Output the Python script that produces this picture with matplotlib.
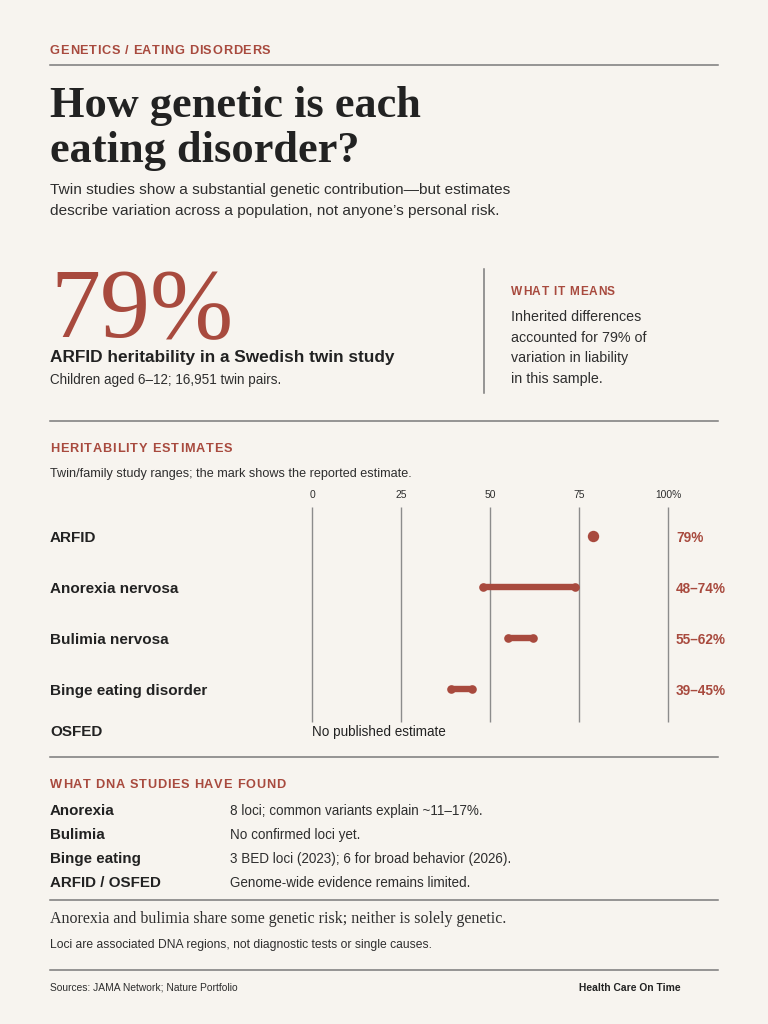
import matplotlib
matplotlib.use("Agg")
import matplotlib.pyplot as plt
import matplotlib.transforms as mtransforms
from matplotlib.font_manager import FontProperties, findfont
from matplotlib.ft2font import FT2Font
import numpy as np

# ---------------- data ----------------
disorders = ["ARFID", "Anorexia nervosa", "Bulimia nervosa", "Binge eating disorder", "OSFED"]
low_est = [79, 48, 55, 39, None]
high_est = [79, 74, 62, 45, None]
tick_vals = [0, 25, 50, 75, 100]
tick_labels = ["0", "25", "50", "75", "100%"]
no_estimate_text = "No published estimate"

dna_groups = ["Anorexia", "Bulimia", "Binge eating", "ARFID / OSFED"]
dna_findings = [
    "8 loci; common variants explain ~11\u201317%.",
    "No confirmed loci yet.",
    "3 BED loci (2023); 6 for broad behavior (2026).",
    "Genome-wide evidence remains limited.",
]

headline_value = "79%"
means_lines = ["Inherited differences", "accounted for 79% of", "variation in liability", "in this sample."]

# ---------------- style ----------------
BG = "#f7f4ef"
RED = "#a84a3e"
DARK = "#222222"
TXT = "#2e2e2e"
RULE = "#7a7a7a"
GRID = "#8c8c8c"
SANS = "Liberation Sans"
SERIF = "Liberation Serif"

W, H = 768, 1024
fig = plt.figure(figsize=(W / 100, H / 100), dpi=100)
fig.patch.set_facecolor(BG)
renderer = fig.canvas.get_renderer()
REF = 80.0


def text_w(s, size, **kw):
    t = fig.text(0, 0, s, fontsize=size, **kw)
    w = t.get_window_extent(renderer).width
    t.remove()
    return w


def fit(s, target, **kw):
    return REF * target / text_w(s, REF, **kw)


def put(x, y, s, size, **kw):
    kw.setdefault("va", "baseline")
    return fig.text(x / W, 1 - y / H, s, fontsize=size, **kw)


def advances(s, size, family, weight):
    font = FT2Font(findfont(FontProperties(family=family, weight=weight)))
    font.set_size(size, 100)
    out = []
    for c in s:
        g = font.load_char(ord(c))
        out.append(g.linearHoriAdvance / 65536.0)
    return out


def spaced(x, y, s, size, target, family=SANS, weight="bold", **kw):
    adv = advances(s, size, family, weight)
    track = (target - sum(adv)) / max(len(s) - 1, 1)
    cx = x
    for c, a in zip(s, adv):
        if c != " ":
            put(cx, y, c, size, family=family, weight=weight, **kw)
        cx += a + track


def hrule(y, x0=50, x1=718, lw=1.1, color=RULE):
    fig.add_artist(plt.Line2D([x0 / W, x1 / W], [1 - y / H, 1 - y / H],
                              transform=fig.transFigure, color=color, lw=lw))


# ---------------- header ----------------
spaced(50, 54, "GENETICS / EATING DISORDERS", 9.2, 220, color=RED)
hrule(65)

ts = fit("How genetic is each", 371, family=SERIF, weight="bold")
put(50, 117, "How genetic is each", ts, family=SERIF, weight="bold", color=DARK)
put(50, 162, "eating disorder?", ts, family=SERIF, weight="bold", color=DARK)

sub1 = "Twin studies show a substantial genetic contribution\u2014but estimates"
sub2 = "describe variation across a population, not anyone\u2019s personal risk."
ss = fit(sub1, 459, family=SANS)
put(50, 194, sub1, ss, family=SANS, color=TXT)
put(50, 215, sub2, ss, family=SANS, color=TXT)

# ---------------- big number block ----------------
bs = fit(headline_value, 183, family=SERIF)
put(50, 337, headline_value, bs, family=SERIF, color=RED)
s1 = "ARFID heritability in a Swedish twin study"
put(50, 362, s1, fit(s1, 343, family=SANS, weight="bold"), family=SANS, weight="bold", color=DARK)
s2 = "Children aged 6\u201312; 16,951 twin pairs."
put(50, 384, s2, fit(s2, 232, family=SANS), family=SANS, color=TXT)

fig.add_artist(plt.Line2D([484 / W, 484 / W], [1 - 269 / H, 1 - 393 / H],
                          transform=fig.transFigure, color=RULE, lw=1.1))
spaced(511, 295, "WHAT IT MEANS", 8.6, 104, color=RED)
ms = fit(means_lines[0], 129, family=SANS)
for i, line in enumerate(means_lines):
    put(511, 321 + 20.5 * i, line, ms, family=SANS, color=TXT)

hrule(421)

# ---------------- heritability chart ----------------
spaced(50, 452, "HERITABILITY ESTIMATES", 9.2, 182, color=RED)
s3 = "Twin/family study ranges; the mark shows the reported estimate."
put(50, 477, s3, fit(s3, 359, family=SANS), family=SANS, color=TXT)

row_gap_px = 51
row_pos = [0, 1, 2, 3, 3.8]
ax_top_px, ax_bot_px = 507, 722
first_row_px = 536
ax = fig.add_axes([312 / W, 1 - ax_bot_px / H, 356 / W, (ax_bot_px - ax_top_px) / H])
ax.set_facecolor("none")
ax.set_xlim(0, 100)
ax.set_ylim(3 + (ax_bot_px - (first_row_px + 3 * row_gap_px)) / row_gap_px,
            -(first_row_px - ax_top_px) / row_gap_px)
for sp in ax.spines.values():
    sp.set_visible(False)
ax.set_yticks([])
ax.set_xticks(tick_vals)
ax.set_xticklabels(tick_labels)
ax.tick_params(axis="x", top=True, bottom=False, labeltop=True, labelbottom=False,
               length=0, pad=5.0, labelsize=7.4, labelcolor=TXT)
for lab in ax.get_xticklabels():
    lab.set_family(SANS)
ylo, yhi = ax.get_ylim()
ax.vlines(tick_vals, yhi, ylo, color=GRID, lw=1.0, zorder=1, clip_on=False)

label_size = fit("Anorexia nervosa", 128, family=SANS, weight="bold")
left_tr = mtransforms.offset_copy(
    mtransforms.blended_transform_factory(fig.transFigure, ax.transData), fig=fig, x=0, y=-6, units="dots")
right_tr = mtransforms.offset_copy(ax.get_yaxis_transform(), fig=fig, x=8, y=-6, units="dots")
val_size = fit("48\u201374%", 50, family=SANS, weight="bold")

for name, lo, hi, yp in zip(disorders, low_est, high_est, row_pos):
    ax.text(50 / W, yp, name, transform=left_tr, fontsize=label_size, family=SANS,
            weight="bold", color=DARK, va="baseline", ha="left", clip_on=False)
    if lo is None:
        ax.text(0, yp, no_estimate_text, fontsize=fit(no_estimate_text, 134, family=SANS),
                family=SANS, color=DARK, va="baseline", ha="left", clip_on=False,
                transform=mtransforms.offset_copy(ax.transData, fig=fig, x=0, y=-6, units="dots"))
        continue
    if lo == hi:
        ax.plot([lo], [yp], "o", ms=8.2, color=RED, mec="none", zorder=3, clip_on=False)
        vtxt = f"{lo}%"
    else:
        ax.plot([lo, hi], [yp, yp], color=RED, lw=4.6, solid_capstyle="round", zorder=3)
        ax.plot([lo, hi], [yp, yp], "o", ms=6.2, color=RED, mec="none", zorder=3)
        vtxt = f"{lo}\u2013{hi}%"
    ax.text(1.0, yp, vtxt, transform=right_tr, fontsize=val_size, family=SANS,
            weight="bold", color=RED, va="baseline", ha="left", clip_on=False)

hrule(757)

# ---------------- DNA findings ----------------
spaced(50, 788, "WHAT DNA STUDIES HAVE FOUND", 9.2, 235, color=RED)
dl = fit("ARFID / OSFED", 111, family=SANS, weight="bold")
dr = fit(dna_findings[2], 282, family=SANS)
for i, (g, f) in enumerate(zip(dna_groups, dna_findings)):
    yb = 815 + 24 * i
    put(50, yb, g, dl, family=SANS, weight="bold", color=DARK)
    put(230, yb, f, dr, family=SANS, color=TXT)

hrule(900)
s4 = "Anorexia and bulimia share some genetic risk; neither is solely genetic."
put(50, 923, s4, fit(s4, 457, family=SERIF), family=SERIF, color=TXT)
s5 = "Loci are associated DNA regions, not diagnostic tests or single causes."
put(50, 948, s5, fit(s5, 381, family=SANS), family=SANS, color=TXT)

hrule(970)
s6 = "Sources: JAMA Network; Nature Portfolio"
put(50, 991, s6, fit(s6, 188, family=SANS), family=SANS, color=TXT)
s7 = "Health Care On Time"
put(681, 991, s7, fit(s7, 101, family=SANS, weight="bold"), family=SANS, weight="bold",
    color=DARK, ha="right")

fig.savefig("out.png", dpi=100, facecolor=BG)
